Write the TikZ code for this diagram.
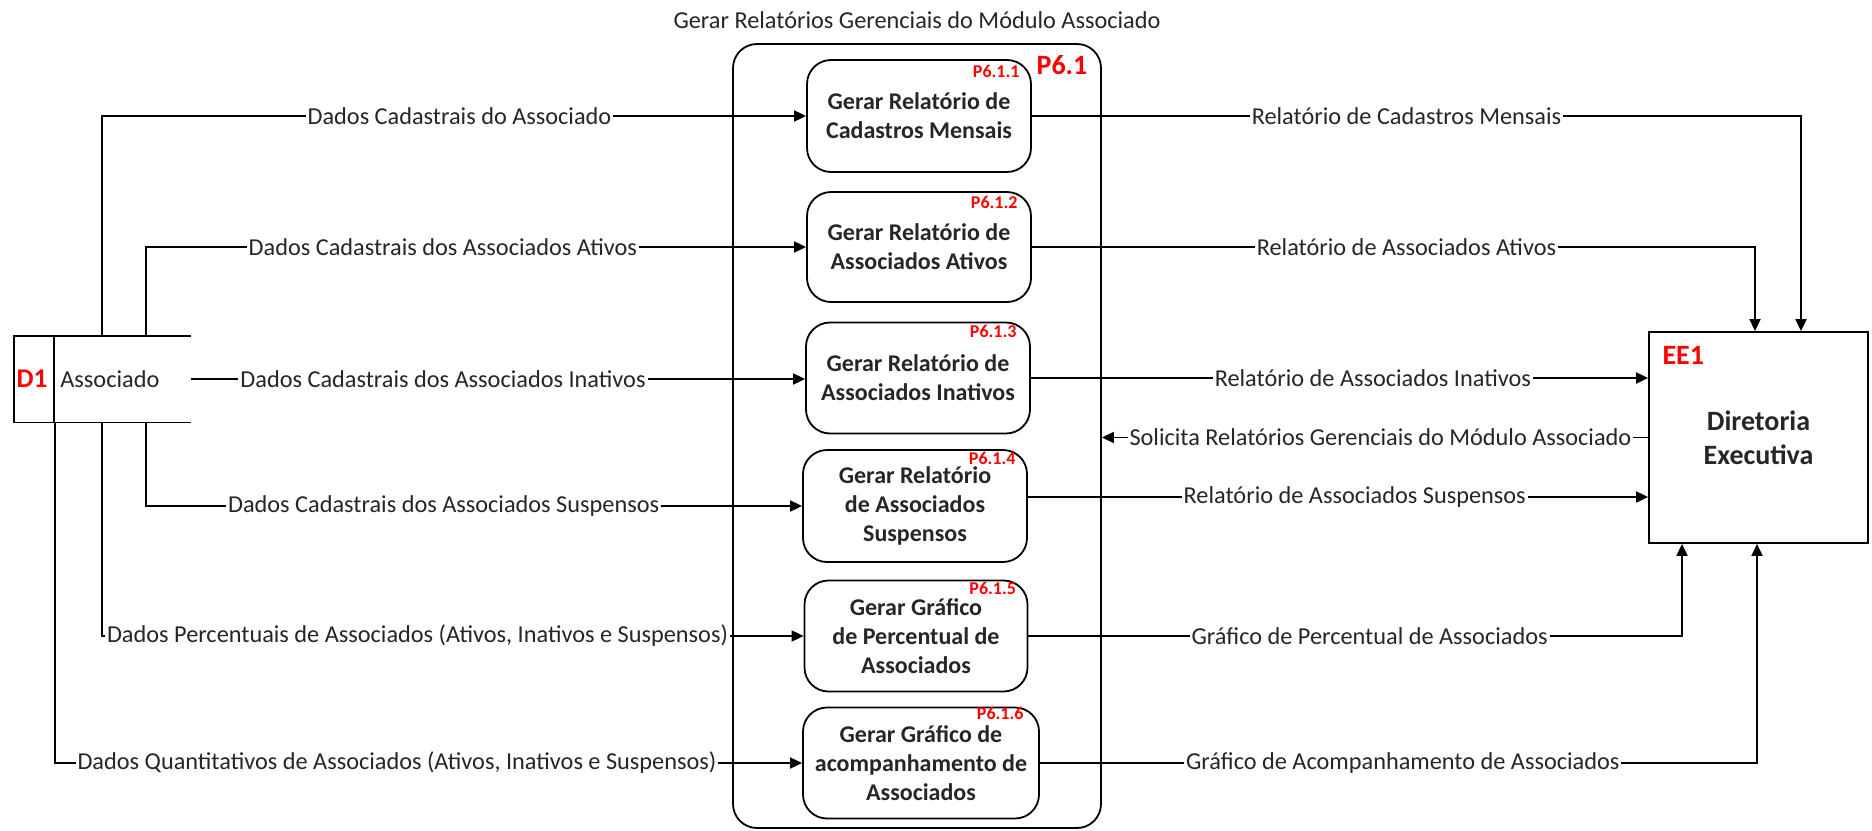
\documentclass[tikz,border=0pt]{standalone}
\usepackage{fontspec}
\setmainfont{Carlito}
\usetikzlibrary{arrows.meta,calc}
\begin{document}
\begin{tikzpicture}[x=0.5pt,y=-0.5pt,
  flow/.style={draw=black, line width=0.9pt, -{Triangle[length=6pt,width=5.5pt]}},
  plain/.style={draw=black, line width=0.9pt},
  lbl/.style={fill=white, inner sep=1pt, font=\fontsize{12.15}{14.5}\selectfont, text=black!85},
  proc/.style={draw, line width=0.9pt, rounded corners=12pt, align=center, font=\bfseries\fontsize{12}{14.5}\selectfont, inner sep=0pt, text=black!85},
  pid/.style={text=red, font=\bfseries\fontsize{9}{10}\selectfont, inner sep=0pt, anchor=east},
  bigid/.style={text=red, font=\bfseries\fontsize{14}{16}\selectfont, inner sep=0pt},
]
\useasboundingbox (0,0) rectangle (1872,830);

% title
\node[lbl] (title) at (917,20) {Gerar Relatórios Gerenciais do Módulo Associado};

% outer process P6.1
\node[draw, line width=0.9pt, rounded corners=12pt, minimum width=184pt, minimum height=392pt] (p61) at (917,436) {};
\node[bigid] (p61id) at (1062,65) {P6.1};

% sub processes
\node[proc, minimum width=112pt, minimum height=56pt] (b1) at (919,116) {Gerar Relatório de\\Cadastros Mensais};
\node[proc, minimum width=112pt, minimum height=55pt] (b2) at (919,247) {Gerar Relatório de\\Associados Ativos};
\node[proc, minimum width=112pt, minimum height=55.5pt] (b3) at (918,378) {Gerar Relatório de\\Associados Inativos};
\node[proc, minimum width=112pt, minimum height=56pt] (b4) at (915,506) {Gerar Relatório\\de Associados\\Suspensos};
\node[proc, minimum width=111.5pt, minimum height=55.5pt] (b5) at (916,636) {Gerar Gráfico\\de Percentual de\\Associados};
\node[proc, minimum width=118pt, minimum height=55.5pt] (b6) at (921,763) {Gerar Gráfico de\\acompanhamento de\\Associados};

\node[pid] (b1id) at ($(b1.north east)+(-12,12)$) {P6.1.1};
\node[pid] (b2id) at ($(b2.north east)+(-14,11)$) {P6.1.2};
\node[pid] (b3id) at ($(b3.north east)+(-14,10)$) {P6.1.3};
\node[pid] (b4id) at ($(b4.north east)+(-12,9)$) {P6.1.4};
\node[pid] (b5id) at ($(b5.north east)+(-12,9)$) {P6.1.5};
\node[pid] (b6id) at ($(b6.north east)+(-16,7)$) {P6.1.6};

% external entity
\node[draw, line width=0.9pt, minimum width=109.5pt, minimum height=105.5pt, align=center,
      font=\bfseries\fontsize{14}{17}\selectfont, text=black!85] (ee) at (1758.5,437.5) {Diretoria\\Executiva};
\node[bigid, anchor=west] (eeid) at ($(ee.north west)+(14,24)$) {EE1};

% data store D1
\node[minimum width=88.5pt, minimum height=43pt, inner sep=0pt] (d1) at (102.5,379) {};
\draw[plain] (d1.north east) -- (d1.north west) -- (d1.south west) -- (d1.south east);
\draw[plain] ($(d1.north west)+(40,0)$) -- ($(d1.south west)+(40,0)$);
\node[bigid, font=\bfseries\fontsize{13.5}{15}\selectfont] (d1id) at (32,379) {D1};
\node[lbl, anchor=west, fill=none] (d1name) at (58,379) {Associado};

\coordinate (s1) at ($(d1.north west)+(88,0)$);
\coordinate (s2) at ($(d1.north west)+(132,0)$);
\coordinate (s4) at ($(d1.south west)+(132,0)$);
\coordinate (s5) at ($(d1.south west)+(88,0)$);
\coordinate (s6) at ($(d1.south west)+(41,0)$);

% flows from D1
\draw[flow] (s1) |- node[lbl, pos=0.754] {Dados Cadastrais do Associado} (b1.west);
\draw[flow] (s2) |- node[lbl, pos=0.725] {Dados Cadastrais dos Associados Ativos} (b2.west);
\draw[flow] (d1.east) -- node[lbl, pos=0.41] {Dados Cadastrais dos Associados Inativos} (d1.east -| b3.west);
\draw[flow] (s4) |- node[lbl, pos=0.727] {Dados Cadastrais dos Associados Suspensos} (b4.west);
\draw[flow] (s5) |- node[lbl, pos=0.725] {Dados Percentuais de Associados (Ativos, Inativos e Suspensos)} (b5.west);
\draw[flow] (s6) |- node[lbl, pos=0.729] {Dados Quantitativos de Associados (Ativos, Inativos e Suspensos)} (b6.west);

% flows to EE1
\draw[flow] (b1.east) -| node[lbl, pos=0.2435] {Relatório de Cadastros Mensais} ($(ee.north)+(42.5,0)$);
\draw[flow] (b2.east) -| node[lbl, pos=0.259] {Relatório de Associados Ativos} ($(ee.north)+(-3.5,0)$);
\draw[flow] (b3.east) -- node[lbl, pos=0.554] {Relatório de Associados Inativos} (b3.east -| ee.west);
\draw[flow] ([yshift=4.5pt]b4.east) -- node[lbl, pos=0.527] {Relatório de Associados Suspensos} ([yshift=4.5pt]b4.east -| ee.west);
\draw[flow] (b5.east) -| node[lbl, pos=0.261] {Gráfico de Percentual de Associados} ($(ee.south)+(-76.5,0)$);
\draw[flow] (b6.east) -| node[lbl, pos=0.253] {Gráfico de Acompanhamento de Associados} ($(ee.south)+(-1.5,0)$);

% request
\draw[flow] (ee.west) -- node[lbl, pos=0.49] {Solicita Relatórios Gerenciais do Módulo Associado} (ee.west -| p61.east);
\end{tikzpicture}
\end{document}
